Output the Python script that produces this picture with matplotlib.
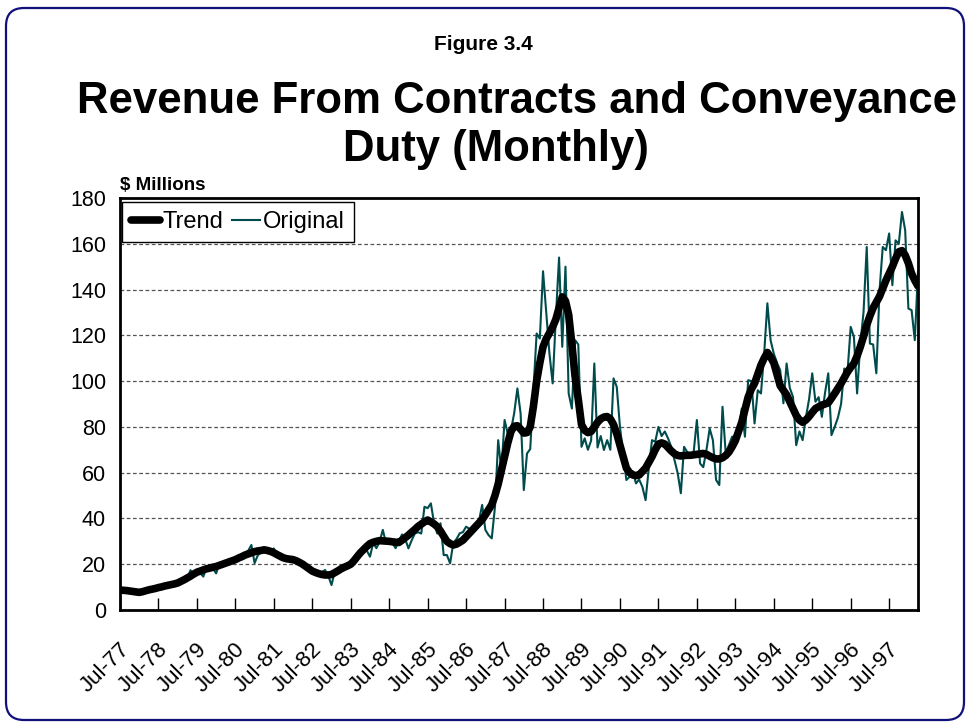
import numpy as np
import matplotlib.pyplot as plt
from matplotlib.patches import FancyBboxPatch
from matplotlib.lines import Line2D
from matplotlib.transforms import ScaledTranslation

plt.rcParams['font.family'] = ['Liberation Sans', 'DejaVu Sans']

# monthly revenue, $ millions, Jul-77 .. Apr-98 (one row per financial year)
original = [
    8.2, 9.1, 8.0, 8.9, 7.8, 8.5, 6.6, 8.3, 8.0, 9.4, 8.7, 9.8,
    9.4, 10.6, 10.2, 11.4, 10.7, 11.9, 11.0, 12.9, 13.5, 13.6, 17.4, 15.3,
    17.6, 16.2, 14.6, 18.8, 19.7, 18.1, 16.0, 20.2, 19.4, 21.0, 21.9, 20.8,
    21.5, 23.4, 22.6, 24.8, 25.9, 28.4, 20.5, 23.9, 25.2, 27.1, 24.8, 25.3,
    26.9, 23.5, 22.1, 23.4, 22.9, 23.0, 21.1, 22.5, 20.0, 19.6, 18.2, 17.4,
    16.4, 17.2, 15.2, 16.6, 17.5, 14.9, 10.9, 16.8, 17.6, 17.9, 19.4, 18.8,
    19.5, 21.7, 22.4, 26.1, 27.6, 26.0, 23.3, 29.3, 27.0, 29.8, 35.0, 29.3,
    31.0, 29.2, 27.0, 30.1, 33.0, 31.0, 26.9, 30.4, 33.4, 34.0, 33.4, 45.1,
    44.5, 46.6, 37.9, 33.4, 37.9, 24.0, 24.0, 20.4, 29.3, 31.0, 33.5, 34.0,
    36.4, 35.5, 33.7, 35.0, 38.9, 45.9, 35.0, 32.7, 31.3, 45.0, 74.2, 61.1,
    83.0, 77.0, 78.6, 86.0, 96.8, 85.9, 52.4, 68.4, 70.3, 96.0, 120.8, 118.6,
    148.0, 130.0, 112.0, 99.0, 128.0, 154.0, 115.0, 150.0, 94.6, 88.0, 117.9, 116.0,
    71.3, 75.0, 70.0, 74.0, 107.7, 71.0, 76.0, 69.9, 74.2, 70.0, 101.2, 97.5,
    80.0, 68.4, 56.8, 58.2, 60.6, 55.3, 57.0, 53.8, 48.0, 62.0, 74.2, 73.5,
    80.0, 76.0, 78.0, 75.0, 71.3, 65.5, 59.9, 51.0, 71.3, 69.0, 66.9, 69.0,
    83.0, 64.0, 62.4, 70.0, 79.3, 74.2, 56.8, 54.6, 88.8, 68.4, 72.0, 75.7,
    75.7, 78.0, 88.0, 75.7, 100.4, 100.0, 81.5, 96.0, 94.6, 112.0, 134.0, 117.9,
    112.0, 108.0, 104.8, 90.3, 107.7, 97.0, 93.1, 72.0, 78.0, 74.2, 84.0, 92.0,
    103.4, 91.0, 93.0, 84.4, 95.0, 103.4, 76.4, 80.0, 84.0, 90.0, 105.5, 104.0,
    123.7, 119.3, 94.6, 116.4, 130.0, 158.6, 116.4, 116.0, 103.4, 139.7, 158.6, 157.2,
    164.5, 141.9, 161.5, 160.0, 173.9, 165.9, 131.7, 131.0, 117.9, 148.0,
]

trend = [
    8.7, 8.6, 8.5, 8.3, 8.1, 7.9, 7.7, 8.0, 8.4, 8.8, 9.1, 9.4,
    9.8, 10.1, 10.5, 10.8, 11.1, 11.4, 11.8, 12.5, 13.2, 14.0, 14.8, 15.7,
    16.5, 17.0, 17.5, 18.0, 18.3, 18.7, 19.0, 19.5, 20.0, 20.5, 21.0, 21.5,
    22.0, 22.7, 23.3, 24.0, 24.5, 25.0, 25.5, 25.8, 26.0, 26.3, 26.0, 25.6,
    25.0, 24.2, 23.5, 22.8, 22.4, 22.2, 22.0, 21.5, 20.8, 20.0, 19.0, 18.0,
    17.0, 16.4, 15.9, 15.5, 15.3, 15.3, 15.5, 16.3, 17.1, 18.0, 18.7, 19.3,
    20.0, 21.5, 23.3, 25.0, 26.4, 27.8, 29.0, 29.6, 30.0, 30.3, 30.2, 30.1,
    30.0, 29.8, 29.6, 29.5, 30.5, 31.6, 32.7, 34.0, 35.2, 36.5, 37.5, 38.5,
    39.3, 38.5, 37.6, 36.4, 34.5, 32.2, 30.0, 29.0, 28.4, 28.8, 29.6, 30.5,
    32.0, 33.5, 35.0, 36.5, 38.0, 39.5, 41.6, 43.8, 46.0, 50.0, 55.0, 61.0,
    67.0, 73.0, 78.0, 80.3, 80.5, 79.0, 77.3, 77.5, 80.0, 89.0, 100.0, 108.0,
    115.0, 118.5, 121.0, 123.7, 127.0, 132.0, 136.8, 135.0, 129.0, 116.0, 102.0, 92.0,
    81.0, 78.5, 77.5, 78.0, 80.0, 82.0, 83.5, 84.3, 84.5, 83.5, 81.0, 77.0,
    72.0, 67.0, 62.0, 60.0, 59.0, 58.7, 59.0, 60.5, 62.0, 64.5, 67.0, 70.0,
    72.5, 73.0, 72.5, 71.0, 69.5, 68.3, 67.5, 67.3, 67.5, 67.6, 67.6, 67.8,
    68.0, 68.2, 68.4, 68.0, 67.2, 66.5, 66.0, 66.0, 66.5, 67.5, 69.0, 71.3,
    74.0, 78.0, 82.0, 87.5, 93.0, 96.5, 99.0, 103.0, 107.0, 110.0, 112.5, 110.5,
    108.0, 103.0, 98.0, 96.0, 94.0, 91.0, 88.0, 85.0, 83.0, 82.0, 83.0, 84.5,
    86.3, 88.0, 88.8, 89.5, 90.0, 90.5, 92.5, 94.6, 96.8, 99.0, 101.5, 104.0,
    106.0, 107.7, 111.0, 115.0, 119.5, 124.5, 128.5, 132.0, 134.5, 137.0, 140.5, 144.0,
    147.0, 150.0, 153.5, 156.5, 157.0, 155.0, 151.5, 147.0, 144.0, 141.5,
]

year_labels = [f"Jul-{y:02d}" for y in range(77, 98)]
months = np.arange(len(original))

fig = plt.figure(figsize=(9.69, 7.26), dpi=100)

# rounded outer frame
frame = FancyBboxPatch((0.06, 0.06), 9.58, 7.12,
                       boxstyle="round,pad=0,rounding_size=0.18",
                       transform=fig.dpi_scale_trans, fc='none',
                       ec='#10107a', lw=1.6, zorder=0)
fig.patches.append(frame)

ax = fig.add_axes([120 / 969, 1 - 610 / 726, 798 / 969, 412 / 726])

ax.plot(months, original, color='#004c4c', lw=1.5)
ax.plot(months, trend, color='black', lw=5.5, solid_capstyle='round',
        solid_joinstyle='round')

ax.set_xlim(0, len(original) - 1)
ax.set_ylim(0, 180)
ax.set_yticks(range(0, 181, 20))
ax.yaxis.grid(True, ls=(0, (3, 2)), color='#555555', lw=0.9)
ax.set_axisbelow(True)

ax.set_xticks(np.arange(0, 241, 12))
ax.set_xticklabels(year_labels, rotation=45, ha='right', va='top')
ax.tick_params(axis='x', direction='in', length=9, width=1, labelsize=16, pad=21)
ax.tick_params(axis='y', length=0, labelsize=15.5, pad=10)
shift = ScaledTranslation(0.14, 0, fig.dpi_scale_trans)
for lab in ax.get_xticklabels():
    lab.set_transform(lab.get_transform() + shift)

for s in ax.spines.values():
    s.set_linewidth(2)
    s.set_color('black')

handles = [Line2D([], [], color='black', lw=5.5, solid_capstyle='round'),
           Line2D([], [], color='#004c4c', lw=1.5)]
leg = ax.legend(handles, ['Trend', 'Original'], loc='upper left',
                bbox_to_anchor=(0.003, 0.99), borderaxespad=0, ncol=2,
                fontsize=17, frameon=True, fancybox=False, framealpha=1,
                edgecolor='black', handlelength=1.2, handletextpad=0.12,
                columnspacing=0.35, borderpad=0.38)
leg.get_frame().set_linewidth(1)

fig.text(483 / 969, 1 - 50 / 726, 'Figure 3.4', ha='center', va='baseline',
         fontsize=15, weight='bold')
fig.text(517 / 969, 1 - 113 / 726, 'Revenue From Contracts and Conveyance',
         ha='center', va='baseline', fontsize=31.5, weight='bold')
fig.text(496 / 969, 1 - 161 / 726, 'Duty (Monthly)',
         ha='center', va='baseline', fontsize=31.5, weight='bold')
fig.text(120 / 969, 1 - 190 / 726, '$ Millions', ha='left', va='baseline',
         fontsize=13.5, weight='bold')

fig.savefig('out.png', dpi=100)
